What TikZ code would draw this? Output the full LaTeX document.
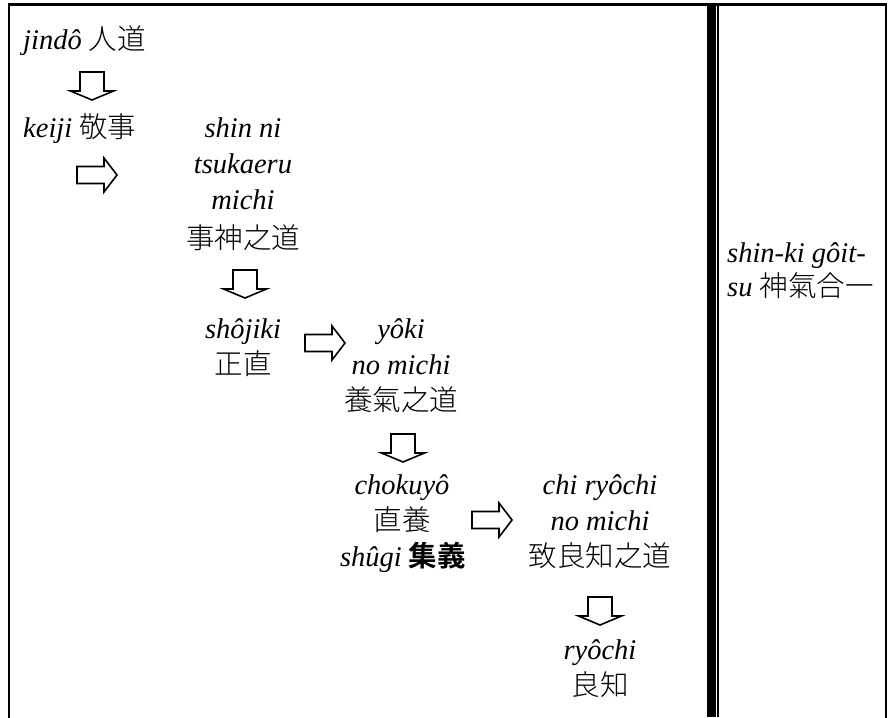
\documentclass[tikz,border=0pt]{standalone}
\usepackage{fontspec}
\setmainfont{Liberation Serif}
\newfontfamily\cjk{Noto Sans CJK JP}[UprightFont={* Light}, BoldFont={* Bold}]
\begin{document}
\begin{tikzpicture}[x=1pt,y=-1pt,
  txt/.style={inner sep=0pt, anchor=base, font=\fontsize{28.5}{34}\selectfont},
  rule/.style={line width=2.5pt, line cap=rect},
  blk/.style={draw, line width=1.6pt, line join=miter, fill=white},
  darrow/.pic={\path[blk] (-12,-14) -- (12,-14) -- (12,5) -- (21.5,5) -- (0,14) -- (-21.5,5) -- (-12,5) -- cycle;},
  rarrow/.pic={\path[blk] (-20,-8.5) -- (7,-8.5) -- (7,-17) -- (20,0) -- (7,17) -- (7,8.5) -- (-20,8.5) -- cycle;}
]
\useasboundingbox (0,0) rectangle (888,717);
% frame
\coordinate (tl) at (9,4.5);
\coordinate (tr) at (886,4.5);
\coordinate (bl) at (9,717);
\coordinate (br) at (886,717);
\draw[rule] (bl) -- (tl) -- (tr) -- (br);
\fill (707,4) rectangle (715.5,717);
\draw[line width=1.8pt] (718,4) -- (718,717);

% texts
\node[txt, anchor=base west] (jindo) at (23,50) {\textit{jindô} {\cjk 人道}};
\node[txt, anchor=base west] (keiji) at (23,137) {\textit{keiji} {\cjk 敬事}};
\node[txt] (shinni) at (243,137) {\textit{shin ni}};
\node[txt] (tsukaeru) at (243,173) {\textit{tsukaeru}};
\node[txt] (michi) at (243,209) {\textit{michi}};
\node[txt] (jishin) at (243,248) {\cjk 事神之道};
\node[txt] (shojiki) at (243,338) {\textit{shôjiki}};
\node[txt] (seichoku) at (243,374) {\cjk 正直};
\node[txt] (yoki) at (401,338) {\textit{yôki}};
\node[txt] (nomichiA) at (401,374) {\textit{no michi}};
\node[txt] (yokido) at (401,410) {\cjk 養氣之道};
\node[txt] (chokuyo) at (402,494) {\textit{chokuyô}};
\node[txt] (chokuyoK) at (402,530) {\cjk 直養};
\node[txt] (shugi) at (403,566) {\textit{shûgi} {\cjk\bfseries 集義}};
\node[txt] (chiryochi) at (600,494) {\textit{chi ryôchi}};
\node[txt] (nomichiB) at (600,530) {\textit{no michi}};
\node[txt] (chiryochido) at (600,566) {\cjk 致良知之道};
\node[txt] (ryochi) at (600,659) {\textit{ryôchi}};
\node[txt] (ryochiK) at (600,695) {\cjk 良知};
\node[txt, anchor=base west] (shinkiA) at (727,262) {\textit{shin-ki gôit-}};
\node[txt, anchor=base west] (shinkiB) at (727,296) {\textit{su} {\cjk 神氣合一}};

% block arrows
\pic at (92,86) {darrow};
\pic at (97,175) {rarrow};
\pic at (245,284) {darrow};
\pic at (325,343) {rarrow};
\pic at (403,448) {darrow};
\pic at (492,520) {rarrow};
\pic at (600,611) {darrow};
\end{tikzpicture}
\end{document}
